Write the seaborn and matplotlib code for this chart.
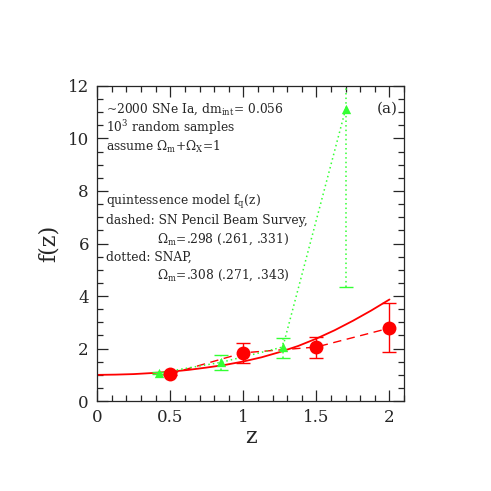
import numpy as np
import pandas as pd
import matplotlib
matplotlib.use("Agg")
import matplotlib.pyplot as plt
from matplotlib.ticker import MultipleLocator
import seaborn as sns

# model curve f_q(z)
curve_z = [0.0, 0.125, 0.25, 0.375, 0.5, 0.625, 0.75, 0.875, 1.0,
           1.125, 1.25, 1.375, 1.5, 1.625, 1.75, 1.875, 2.0]
curve_f = [1.0, 1.01, 1.03, 1.07, 1.12, 1.19, 1.28, 1.38, 1.51,
           1.67, 1.87, 2.10, 2.38, 2.70, 3.06, 3.45, 3.87]

# SN Pencil Beam Survey (red, dashed)
pbs_z = [0.5, 1.0, 1.5, 2.0]
pbs_f = [1.04, 1.84, 2.06, 2.78]
pbs_lo = [0.98, 1.45, 1.64, 1.88]
pbs_hi = [1.10, 2.22, 2.44, 3.72]

# SNAP (green, dotted)
snap_z = [0.42, 0.85, 1.27, 1.70]
snap_f = [1.07, 1.48, 2.06, 11.12]
snap_lo = [1.03, 1.18, 1.64, 4.34]
snap_hi = [1.11, 1.75, 2.40, 14.0]

red = "#ff0000"
green = "#33ff33"

sns.set_style("ticks")
plt.rcParams["font.family"] = ["DejaVu Serif"]
plt.rcParams["mathtext.fontset"] = "dejavuserif"

fig = plt.figure(figsize=(4.91, 4.91), dpi=100)
ax = fig.add_axes([0.198, 0.183, 0.625, 0.642])

curve = pd.DataFrame({"z": curve_z, "f": curve_f})
pbs = pd.DataFrame({"z": pbs_z, "f": pbs_f})
snap = pd.DataFrame({"z": snap_z, "f": snap_f})

sns.lineplot(data=curve, x="z", y="f", color=red, lw=1.3, ax=ax)
sns.lineplot(data=pbs, x="z", y="f", color=red, lw=1.0, ax=ax,
             linestyle=(0, (6, 4)))
sns.lineplot(data=snap, x="z", y="f", color=green, lw=1.1, ax=ax,
             linestyle=(0, (1, 2)))

# error bars
pbs_err = [np.array(pbs_f) - np.array(pbs_lo), np.array(pbs_hi) - np.array(pbs_f)]
ax.errorbar(pbs_z, pbs_f, yerr=pbs_err, fmt="none", ecolor=red, elinewidth=1.0,
            capsize=5, capthick=1.0)
snap_err = [np.array(snap_f) - np.array(snap_lo), np.array(snap_hi) - np.array(snap_f)]
eb = ax.errorbar(snap_z, snap_f, yerr=snap_err, fmt="none", ecolor=green,
                 elinewidth=1.1, capsize=5, capthick=1.0)
for coll in eb.lines[2]:
    coll.set_linestyle((0, (1, 2)))

sns.scatterplot(data=pbs, x="z", y="f", color=red, s=100, marker="o",
                edgecolor=red, linewidth=0, ax=ax, zorder=5)
sns.scatterplot(data=snap, x="z", y="f", color=green, s=45, marker="^",
                edgecolor=green, linewidth=0, ax=ax, zorder=5)

ax.set_xlim(0, 2.1)
ax.set_ylim(0, 12)
ax.xaxis.set_major_locator(MultipleLocator(0.5))
ax.xaxis.set_minor_locator(MultipleLocator(0.1))
ax.yaxis.set_major_locator(MultipleLocator(2))
ax.yaxis.set_minor_locator(MultipleLocator(0.5))
ax.xaxis.set_major_formatter(plt.FuncFormatter(lambda v, p: f"{v:g}"))
ax.tick_params(which="both", direction="in", top=True, right=True, width=0.9)
ax.tick_params(which="major", length=8, labelsize=12, pad=6)
ax.tick_params(which="minor", length=4)
for s in ax.spines.values():
    s.set_linewidth(0.9)

ax.set_xlabel("z", fontsize=16, labelpad=0)
ax.set_ylabel("f(z)", fontsize=16, labelpad=6)

fs = 8.8
lines = [
    (0.06, 11.12, r"~2000 SNe Ia, dm$_{\mathrm{int}}$= 0.056"),
    (0.06, 10.40, r"10$^3$ random samples"),
    (0.06, 9.68, r"assume $\Omega_{\mathrm{m}}$+$\Omega_{\mathrm{X}}$=1"),
    (0.06, 7.58, r"quintessence model f$_{\mathrm{q}}$(z)"),
    (0.06, 6.88, "dashed: SN Pencil Beam Survey,"),
    (0.41, 6.18, r"$\Omega_{\mathrm{m}}$=.298 (.261, .331)"),
    (0.06, 5.48, "dotted: SNAP,"),
    (0.41, 4.78, r"$\Omega_{\mathrm{m}}$=.308 (.271, .343)"),
]
for x, y, t in lines:
    ax.text(x, y, t, fontsize=fs, ha="left", va="center")
ax.text(2.055, 11.12, "(a)", fontsize=11, ha="right", va="center")

fig.savefig("out.png", dpi=100)
